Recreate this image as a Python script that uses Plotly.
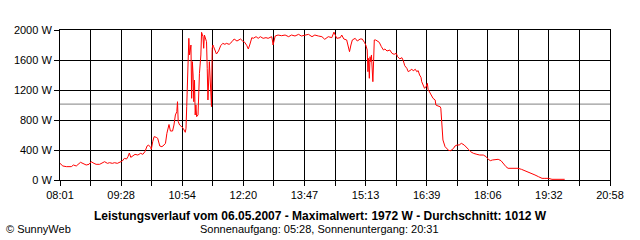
import plotly.graph_objects as go
import pandas as pd

DATE = "2007-05-06"

times = [
    "08:01", "08:05", "08:10", "08:17", "08:20", "08:24", "08:30", "08:33", "08:38", "08:42",
    "08:45", "08:49", "08:52", "08:57", "09:04", "09:08", "09:11", "09:15", "09:18", "09:22",
    "09:25", "09:29", "09:32", "09:35", "09:37", "09:39", "09:41", "09:44", "09:47", "09:51",
    "09:55", "09:58", "10:01", "10:04", "10:06", "10:09", "10:10", "10:12", "10:14", "10:17",
    "10:19", "10:22", "10:25", "10:28", "10:30", "10:32", "10:35", "10:37", "10:40", "10:42",
    "10:44", "10:46", "10:47", "10:48", "10:50", "10:53", "10:55", "10:58", "10:59", "11:00",
    "11:01", "11:03", "11:04", "11:06", "11:07", "11:08", "11:09", "11:10", "11:11", "11:12",
    "11:13", "11:14", "11:16", "11:17", "11:18", "11:20", "11:21", "11:23", "11:24", "11:25",
    "11:26", "11:28", "11:29", "11:30", "11:32", "11:33", "11:35", "11:36", "11:37", "11:38",
    "11:40", "11:42", "11:45", "11:48", "11:51", "11:54", "11:56", "12:00", "12:04", "12:07",
    "12:11", "12:14", "12:16", "12:19", "12:22", "12:25", "12:27", "12:29", "12:32", "12:34",
    "12:38", "12:41", "12:44", "12:48", "12:52", "12:55", "13:00", "13:01", "13:02", "13:05",
    "13:09", "13:14", "13:19", "13:24", "13:28", "13:33", "13:38", "13:42", "13:47", "13:52",
    "13:57", "14:01", "14:06", "14:11", "14:15", "14:20", "14:25", "14:28", "14:32", "14:37",
    "14:39", "14:42", "14:46", "14:48", "14:50", "14:52", "14:54", "14:58", "15:01", "15:05",
    "15:08", "15:11", "15:13", "15:15", "15:16", "15:17", "15:18", "15:19", "15:20", "15:21",
    "15:22", "15:23", "15:24", "15:25", "15:27", "15:29", "15:32", "15:35", "15:38", "15:40",
    "15:43", "15:47", "15:50", "15:53", "15:56", "15:58", "16:01", "16:04", "16:06", "16:08",
    "16:11", "16:13", "16:15", "16:18", "16:20", "16:23", "16:25", "16:27", "16:29", "16:31",
    "16:32", "16:34", "16:36", "16:38", "16:40", "16:41", "16:44", "16:46", "16:48", "16:51",
    "16:52", "16:55", "16:58", "16:59", "17:00", "17:01", "17:02", "17:05", "17:07", "17:10",
    "17:13", "17:17", "17:19", "17:22", "17:25", "17:28", "17:32", "17:35", "17:38", "17:41",
    "17:45", "17:50", "17:54", "17:59", "18:03", "18:06", "18:09", "18:12", "18:16", "18:20",
    "18:24", "18:27", "18:31", "18:34", "18:39", "18:44", "18:48", "18:53", "18:58", "19:03",
    "19:07", "19:12", "19:17", "19:22", "19:26", "19:31", "19:36", "19:40", "19:47", "19:54",
]

power_w = [
    222, 187, 178, 178, 200, 187, 236, 222, 200, 209,
    244, 222, 209, 209, 244, 222, 231, 222, 231, 222,
    231, 253, 289, 280, 311, 360, 302, 324, 342, 333,
    356, 342, 378, 453, 467, 436, 409, 511, 578, 569,
    556, 453, 444, 467, 489, 622, 740, 653, 653, 733,
    867, 911, 1044, 778, 733, 711, 689, 636, 689, 978,
    1378, 1889, 1667, 1800, 1089, 1578, 1400, 1044, 1333, 867,
    1000, 844, 867, 1178, 1422, 1667, 1969, 1911, 1756, 1933,
    1889, 1844, 1489, 1067, 1578, 1400, 978, 1756, 1800, 1778,
    1733, 1680, 1720, 1791, 1822, 1809, 1822, 1809, 1844, 1880,
    1853, 1867, 1880, 1853, 1836, 1791, 1747, 1800, 1898, 1889,
    1911, 1889, 1911, 1889, 1898, 1889, 1911, 1867, 1800, 1920,
    1933, 1924, 1933, 1911, 1933, 1920, 1942, 1920, 1933, 1942,
    1911, 1933, 1920, 1911, 1876, 1911, 1898, 1972, 1889, 1898,
    1933, 1880, 1867, 1800, 1711, 1800, 1867, 1889, 1853, 1880,
    1880, 1836, 1800, 1733, 1444, 1622, 1356, 1644, 1578, 1667,
    1489, 1311, 1578, 1867, 1867, 1853, 1836, 1778, 1733, 1747,
    1720, 1733, 1689, 1676, 1689, 1644, 1615, 1631, 1591, 1524,
    1489, 1444, 1458, 1476, 1458, 1476, 1444, 1458, 1400, 1369,
    1311, 1253, 1222, 1244, 1289, 1209, 1156, 1133, 1089, 1067,
    1000, 987, 978, 956, 791, 622, 533, 444, 422, 395,
    391, 422, 453, 467, 467, 489, 467, 444, 409, 378,
    356, 342, 333, 333, 311, 276, 258, 267, 276, 276,
    258, 222, 178, 156, 156, 156, 156, 142, 124, 102,
    89, 67, 44, 22, 22, 22, 9, 9, 9, 9,
]

tick_labels = ["08:01", "09:28", "10:54", "12:20", "13:47",
               "15:13", "16:39", "18:06", "19:32", "20:58"]
y_ticks = [0, 400, 800, 1200, 1600, 2000]
average_w = 1012

title_text = "Leistungsverlauf vom 06.05.2007 - Maximalwert: 1972 W - Durchschnitt: 1012 W"
sun_text = "Sonnenaufgang: 05:28, Sonnenuntergang: 20:31"
copyright_text = "© SunnyWeb"

x = pd.to_datetime([f"{DATE} {t}" for t in times])
start = pd.Timestamp(f"{DATE} {tick_labels[0]}")
end = pd.Timestamp(f"{DATE} {tick_labels[-1]}")
grid = pd.date_range(start, end, periods=2 * (len(tick_labels) - 1) + 1)
grid_text = [tick_labels[i // 2] if i % 2 == 0 else "" for i in range(len(grid))]

FONT = "Liberation Sans, Arial, sans-serif"

fig = go.Figure()
fig.add_trace(go.Scatter(
    x=x, y=power_w, mode="lines",
    line=dict(color="#ff0000", width=1),
    hoverinfo="skip", showlegend=False,
))

fig.add_shape(type="line", xref="paper", x0=0, x1=1, yref="y",
              y0=average_w, y1=average_w,
              line=dict(color="#808080", width=1), layer="between")

W, H = 640, 240
L, R, T, B = 60, 30, 30, 60
pw, ph = W - L - R, H - T - B


def px_to_paper(px, py):
    return (px - L) / pw, (H - B - py) / ph


ax, ay = px_to_paper(320, 216)
fig.add_annotation(x=ax, y=ay, xref="paper", yref="paper", text=f"<b>{title_text}</b>",
                   showarrow=False, xanchor="center", yanchor="middle",
                   font=dict(family=FONT, size=12, color="black"))
ax, ay = px_to_paper(319, 229)
fig.add_annotation(x=ax, y=ay, xref="paper", yref="paper", text=sun_text,
                   showarrow=False, xanchor="center", yanchor="middle",
                   font=dict(family=FONT, size=11, color="black"))
ax, ay = px_to_paper(4, 229)
fig.add_annotation(x=ax, y=ay, xref="paper", yref="paper", text=copyright_text,
                   showarrow=False, xanchor="left", yanchor="middle",
                   font=dict(family=FONT, size=11, color="black"))

fig.update_layout(
    width=W, height=H,
    margin=dict(l=L, r=R, t=T, b=B, pad=0),
    paper_bgcolor="white", plot_bgcolor="white",
    font=dict(family=FONT, size=11, color="black"),
    hovermode=False,
    xaxis=dict(
        type="date", range=[start, end],
        tickmode="array", tickvals=grid, ticktext=grid_text,
        showgrid=True, gridcolor="black", gridwidth=1,
        ticks="outside", ticklen=5, tickcolor="black", tickwidth=1,
        showline=True, mirror=True, linecolor="black", linewidth=1,
        zeroline=False, tickangle=0,
        tickfont=dict(family=FONT, size=11, color="black"),
    ),
    yaxis=dict(
        range=[0, 2000],
        tickmode="array", tickvals=y_ticks, ticktext=[f"{v} W" for v in y_ticks],
        showgrid=True, gridcolor="black", gridwidth=1,
        ticks="outside", ticklen=5, tickcolor="black", tickwidth=1,
        showline=True, mirror=True, linecolor="black", linewidth=1,
        zeroline=False,
        tickfont=dict(family=FONT, size=11, color="black"),
    ),
)

fig.write_html("out.html", config={"displayModeBar": False})
